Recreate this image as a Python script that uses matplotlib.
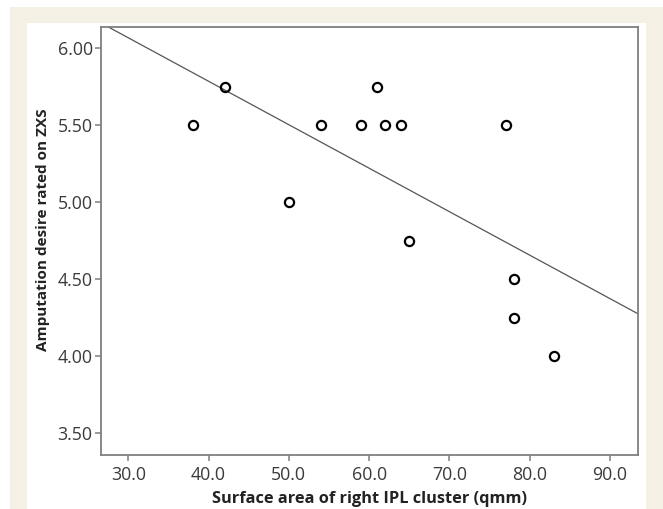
import numpy as np
import matplotlib
matplotlib.use("Agg")
import matplotlib.pyplot as plt
from matplotlib.patches import Rectangle
from matplotlib.ticker import FormatStrFormatter

# data
surface_area = [38, 42, 50, 54, 59, 61, 62, 64, 65, 77, 78, 78, 83]
amputation_desire = [5.50, 5.75, 5.00, 5.50, 5.50, 5.75, 5.50, 5.50, 4.75, 5.50, 4.50, 4.25, 4.00]
x_ticks = [30, 40, 50, 60, 70, 80, 90]
y_ticks = [3.5, 4.0, 4.5, 5.0, 5.5, 6.0]

W, H = 663, 509
plt.rcParams['font.family'] = ['Open Sans', 'DejaVu Sans']

fig = plt.figure(figsize=(W / 100, H / 100), dpi=100)
fig.patch.set_facecolor('white')

# beige frame and white panel behind the plot
fig.patches.append(Rectangle((10 / W, 0), 653 / W, (H - 7) / H, transform=fig.transFigure,
                             facecolor='#f4f0e3', edgecolor='none', zorder=-10))
fig.patches.append(Rectangle((27 / W, 0), 619 / W, (H - 23) / H, transform=fig.transFigure,
                             facecolor='white', edgecolor='none', zorder=-9))

ax = fig.add_axes([101 / W, (H - 455) / H, (637.7 - 101) / W, (455 - 26.7) / H])
ax.set_zorder(1)
ax.set_facecolor('white')

x = np.array(surface_area, dtype=float)
y = np.array(amputation_desire)
slope, intercept = np.polyfit(x, y, 1)
xs = np.array([20.0, 100.0])
ax.plot(xs, intercept + slope * xs, color='#555555', lw=0.9, zorder=2)

ax.plot(x, y, 'o', ms=6.6, mfc='none', mec='black', mew=1.6, zorder=3)

ax.set_xlim(26.6, 93.45)
ax.set_ylim(3.359, 6.14)
ax.set_xticks(x_ticks)
ax.set_yticks(y_ticks)
ax.xaxis.set_major_formatter(FormatStrFormatter('%.1f'))
ax.yaxis.set_major_formatter(FormatStrFormatter('%.2f'))

for s in ax.spines.values():
    s.set_color('#7f7f7f')
    s.set_linewidth(1.3)
ax.tick_params(direction='out', length=4.5, width=1.1, color='#7f7f7f',
               labelsize=12.8, labelcolor='#3a3a3a')
ax.tick_params(axis='x', pad=3.5)
ax.tick_params(axis='y', pad=1.5)

ax.set_xlabel('Surface area of right IPL cluster (qmm)', fontsize=11.8, fontweight='bold',
              color='#222222')
ax.set_ylabel('Amputation desire rated on ZXS', fontsize=11, fontweight='bold',
              color='#222222')
ax.yaxis.set_label_coords(-0.095, 0.525)
ax.xaxis.set_label_coords(0.5, -0.084)

fig.savefig('out.png', dpi=100)
